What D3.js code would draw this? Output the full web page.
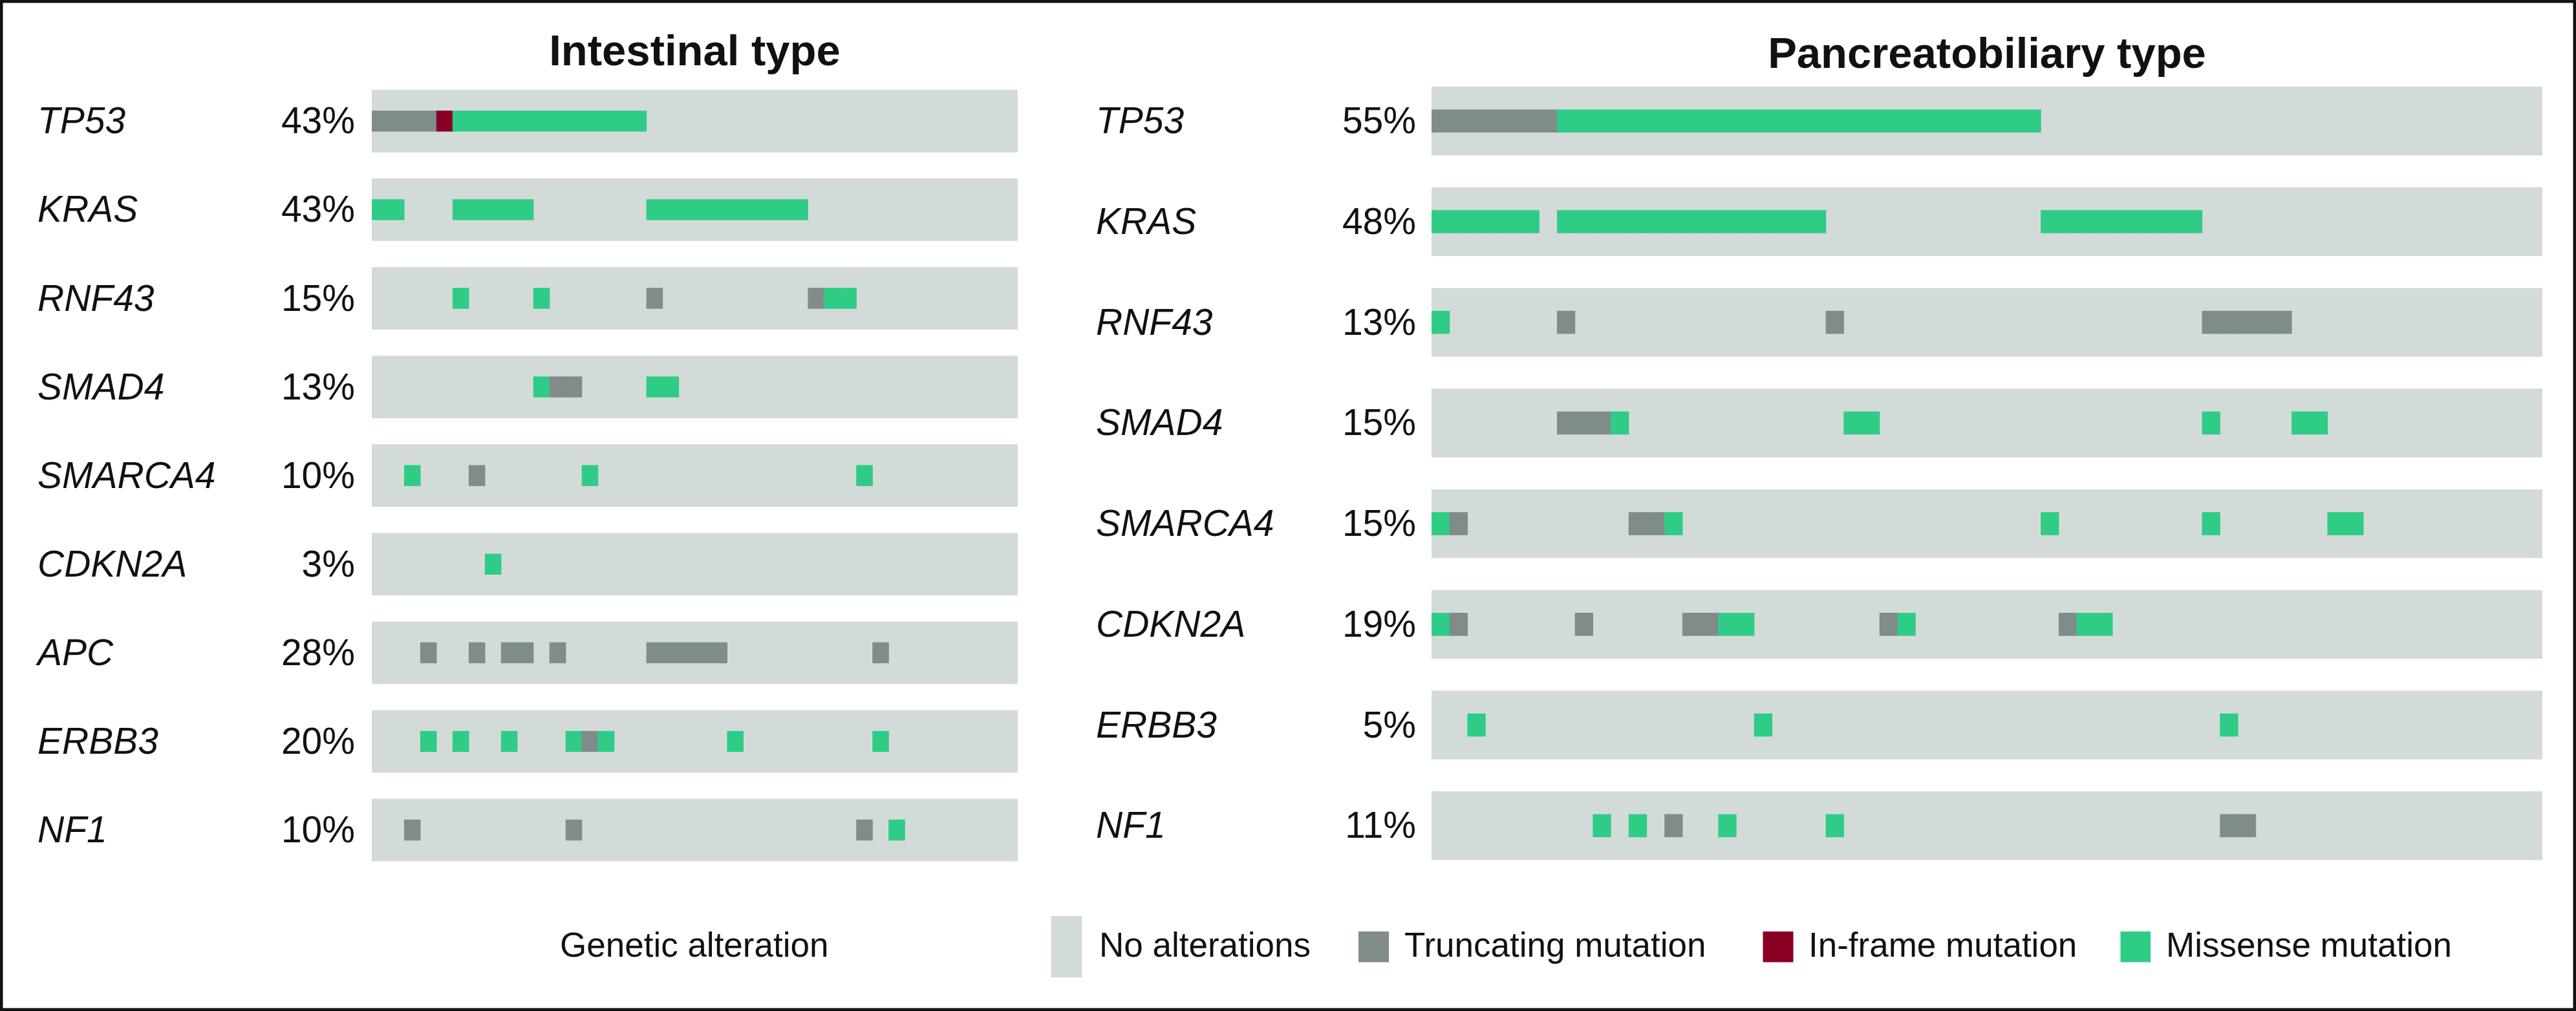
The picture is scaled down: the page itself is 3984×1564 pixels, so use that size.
<!DOCTYPE html>
<html>
<head>
<meta charset="utf-8">
<script src="https://cdn.jsdelivr.net/npm/d3@7"></script>
<style>
  html, body { margin: 0; padding: 0; background: #ffffff; }
  svg { display: block; }
  text { font-family: "Liberation Sans", Arial, Helvetica, sans-serif; fill: #111111; }
</style>
</head>
<body>
<svg id="chart" width="3984" height="1564"></svg>
<script>
// ---------------- DATA ----------------
// Alteration types: T = truncating, I = in-frame, M = missense
// Each run: [first patient index, number of consecutive patients, type]
const intestinalTitle = "Intestinal type";
const intestinalGenes = ["TP53", "KRAS", "RNF43", "SMAD4", "SMARCA4", "CDKN2A", "APC", "ERBB3", "NF1"];
const intestinalPct = ["43%", "43%", "15%", "13%", "10%", "3%", "28%", "20%", "10%"];
const intestinalPatients = 40;
const intestinalRuns = [
  [[0, 4, "T"], [4, 1, "I"], [5, 12, "M"]],
  [[0, 2, "M"], [5, 5, "M"], [17, 10, "M"]],
  [[5, 1, "M"], [10, 1, "M"], [17, 1, "T"], [27, 1, "T"], [28, 2, "M"]],
  [[10, 1, "M"], [11, 2, "T"], [17, 2, "M"]],
  [[2, 1, "M"], [6, 1, "T"], [13, 1, "M"], [30, 1, "M"]],
  [[7, 1, "M"]],
  [[3, 1, "T"], [6, 1, "T"], [8, 2, "T"], [11, 1, "T"], [17, 5, "T"], [31, 1, "T"]],
  [[3, 1, "M"], [5, 1, "M"], [8, 1, "M"], [12, 1, "M"], [13, 1, "T"], [14, 1, "M"], [22, 1, "M"], [31, 1, "M"]],
  [[2, 1, "T"], [12, 1, "T"], [30, 1, "T"], [32, 1, "M"]]
];

const pancreatoTitle = "Pancreatobiliary type";
const pancreatoGenes = ["TP53", "KRAS", "RNF43", "SMAD4", "SMARCA4", "CDKN2A", "ERBB3", "NF1"];
const pancreatoPct = ["55%", "48%", "13%", "15%", "15%", "19%", "5%", "11%"];
const pancreatoPatients = 62;
const pancreatoRuns = [
  [[0, 7, "T"], [7, 27, "M"]],
  [[0, 6, "M"], [7, 15, "M"], [34, 9, "M"]],
  [[0, 1, "M"], [7, 1, "T"], [22, 1, "T"], [43, 5, "T"]],
  [[7, 3, "T"], [10, 1, "M"], [23, 2, "M"], [43, 1, "M"], [48, 2, "M"]],
  [[0, 1, "M"], [1, 1, "T"], [11, 2, "T"], [13, 1, "M"], [34, 1, "M"], [43, 1, "M"], [50, 2, "M"]],
  [[0, 1, "M"], [1, 1, "T"], [8, 1, "T"], [14, 2, "T"], [16, 2, "M"], [25, 1, "T"], [26, 1, "M"], [35, 1, "T"], [36, 2, "M"]],
  [[2, 1, "M"], [18, 1, "M"], [44, 1, "M"]],
  [[9, 1, "M"], [11, 1, "M"], [13, 1, "T"], [16, 1, "M"], [22, 1, "M"], [44, 2, "T"]]
];

const legendTitle = "Genetic alteration";
const legendKeys = ["N", "T", "I", "M"];
const legendLabels = ["No alterations", "Truncating mutation", "In-frame mutation", "Missense mutation"];

// ---------------- STYLE / LAYOUT ----------------
const colors = { N: "#d3dbd9", T: "#7f8c8a", I: "#8a0024", M: "#2fcc85" };

const panels = [
  { title: intestinalTitle, genes: intestinalGenes, pct: intestinalPct, n: intestinalPatients, runs: intestinalRuns,
    x0: 575, x1: 1574, y0: 139, y1: 1332.4, padInner: 0.2946, labelX: 58, pctX: 549, titleY: 101 },
  { title: pancreatoTitle, genes: pancreatoGenes, pct: pancreatoPct, n: pancreatoPatients, runs: pancreatoRuns,
    x0: 2214, x1: 3932, y0: 134, y1: 1330.5, padInner: 0.317, labelX: 1695, pctX: 2190, titleY: 105 }
];

const svg = d3.select("#chart");

// outer frame
svg.append("rect")
  .attr("x", 2.25).attr("y", 2.25)
  .attr("width", 3984 - 4.5).attr("height", 1564 - 4.5)
  .attr("fill", "none").attr("stroke", "#111111").attr("stroke-width", 4.5);

panels.forEach(p => {
  const g = svg.append("g");
  const x = d3.scaleBand().domain(d3.range(p.n)).range([p.x0, p.x1]).paddingInner(0).paddingOuter(0);
  const y = d3.scaleBand().domain(p.genes).range([p.y0, p.y1]).paddingInner(p.padInner).paddingOuter(0);
  const markH = y.bandwidth() * 0.335;

  // title
  g.append("text")
    .attr("x", (p.x0 + p.x1) / 2).attr("y", p.titleY)
    .attr("text-anchor", "middle")
    .style("font-size", "67px").style("font-weight", "bold")
    .text(p.title);

  // background rows
  g.selectAll("rect.bg").data(p.genes).join("rect")
    .attr("class", "bg")
    .attr("x", p.x0).attr("y", d => y(d))
    .attr("width", p.x1 - p.x0).attr("height", y.bandwidth())
    .attr("fill", colors.N);

  // gene labels
  g.selectAll("text.gene").data(p.genes).join("text")
    .attr("class", "gene")
    .attr("x", p.labelX).attr("y", d => y(d) + y.bandwidth() / 2 + 19)
    .style("font-size", "57px").style("font-style", "italic")
    .text(d => d);

  // percentages
  g.selectAll("text.pct").data(p.genes).join("text")
    .attr("class", "pct")
    .attr("x", p.pctX).attr("y", d => y(d) + y.bandwidth() / 2 + 19)
    .attr("text-anchor", "end")
    .style("font-size", "57px")
    .text((d, i) => p.pct[i]);

  // alteration cells
  const cells = [];
  p.runs.forEach((runs, gi) => {
    runs.forEach(([start, len, type]) => {
      for (let k = 0; k < len; k++) cells.push({ gene: p.genes[gi], idx: start + k, type });
    });
  });
  g.selectAll("rect.cell").data(cells).join("rect")
    .attr("class", "cell")
    .attr("x", d => x(d.idx))
    .attr("y", d => y(d.gene) + (y.bandwidth() - markH) / 2)
    .attr("width", x.bandwidth() + 0.6)
    .attr("height", markH)
    .attr("fill", d => colors[d.type]);
});

// legend
const legend = svg.append("g");
legend.append("text")
  .attr("x", 866).attr("y", 1480)
  .style("font-size", "53px")
  .text(legendTitle);

const legendPos = [
  { sx: 1625.5, sw: 48, sy: 1417, sh: 95, tx: 1700 },
  { sx: 2101, sw: 47, sy: 1441, sh: 47.5, tx: 2172 },
  { sx: 2726.5, sw: 47, sy: 1441, sh: 47.5, tx: 2797 },
  { sx: 3279.5, sw: 46.5, sy: 1441, sh: 47.5, tx: 3350 }
];
legendKeys.forEach((k, i) => {
  const L = legendPos[i];
  legend.append("rect")
    .attr("x", L.sx).attr("y", L.sy).attr("width", L.sw).attr("height", L.sh)
    .attr("fill", colors[k]);
  legend.append("text")
    .attr("x", L.tx).attr("y", 1480)
    .style("font-size", "53px")
    .text(legendLabels[i]);
});
</script>
</body>
</html>
